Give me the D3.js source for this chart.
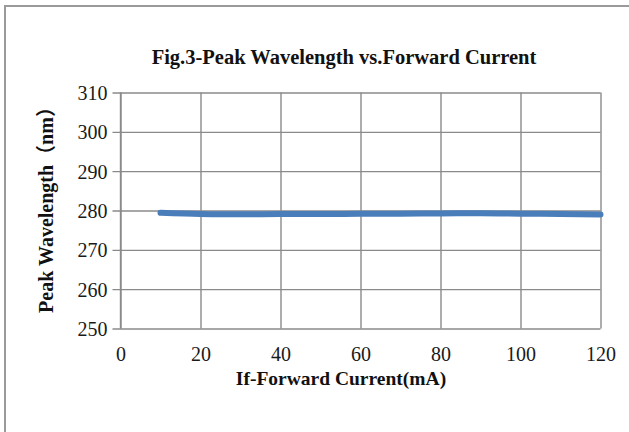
<!DOCTYPE html>
<html><head><meta charset="utf-8">
<script src="https://cdn.jsdelivr.net/npm/d3@7"></script>
<style>html,body{margin:0;padding:0;background:#fff;}svg{display:block;}</style>
</head><body>
<svg id="c" width="629" height="432"></svg>
<script>
const currents = [10, 20, 30, 40, 50, 60, 70, 80, 90, 100, 110, 120];
const wavelengths = [279.4, 279.1, 279.05, 279.1, 279.1, 279.15, 279.2, 279.25, 279.3, 279.2, 279.1, 279.0];
const xTicks = [0, 20, 40, 60, 80, 100, 120];
const yTicks = [250, 260, 270, 280, 290, 300, 310];
const title = "Fig.3-Peak Wavelength vs.Forward Current";
const xTitle = "If-Forward Current(mA)";
const yTitle = "Peak Wavelength（nm）";

const svg = d3.select("#c");
const font = "'Liberation Serif','Times New Roman',serif";
const L = 120.5, R = 600.5, T = 92.5, B = 328.5;

svg.append("rect").attr("x", 5).attr("y", 6).attr("width", 700).attr("height", 500)
  .attr("fill", "none").attr("stroke", "#9a9a9a").attr("stroke-width", 2);

const x = d3.scaleLinear().domain([0, 120]).range([L, R]);
const y = d3.scaleLinear().domain([250, 310]).range([B, T]);

// horizontal gridlines + y ticks
const yAxis = d3.axisLeft(y).tickValues(yTicks).tickSize(R - L + 8).tickSizeOuter(0).tickFormat(d3.format("d"));
const gy = svg.append("g").attr("transform", `translate(${R},0)`).call(yAxis);
gy.select(".domain").remove();
gy.selectAll("line").attr("stroke", "#8a8a8a").attr("stroke-width", 1.4);
gy.selectAll("text").attr("x", -(R - L) - 13).attr("dy", "0.35em")
  .attr("font-family", font).attr("font-size", 20).attr("fill", "#1a1a1a");

// vertical gridlines + x labels
const xAxis = d3.axisBottom(x).tickValues(xTicks).tickSize(-(B - T)).tickSizeOuter(0).tickFormat(d3.format("d"));
const gx = svg.append("g").attr("transform", `translate(0,${B})`).call(xAxis);
gx.select(".domain").remove();
gx.selectAll("line").attr("stroke", "#8a8a8a").attr("stroke-width", 1.4);
gx.selectAll("text").attr("y", 32).attr("dy", 0)
  .attr("font-family", font).attr("font-size", 20).attr("fill", "#1a1a1a");

// y axis line
svg.append("line").attr("x1", L).attr("x2", L).attr("y1", T).attr("y2", B)
  .attr("stroke", "#8a8a8a").attr("stroke-width", 1.4);

// data line
const line = d3.line().x(d => x(d[0])).y(d => y(d[1])).curve(d3.curveMonotoneX);
svg.append("path").datum(currents.map((c, i) => [c, wavelengths[i]]))
  .attr("d", line).attr("fill", "none").attr("stroke", "#4a7ebb")
  .attr("stroke-width", 6).attr("stroke-linecap", "round");

// titles
svg.append("text").attr("x", 344).attr("y", 64).attr("text-anchor", "middle")
  .attr("font-family", font).attr("font-weight", "bold").attr("font-size", 20.5).attr("fill", "#111")
  .text(title);
svg.append("text").attr("x", 341).attr("y", 385).attr("text-anchor", "middle")
  .attr("font-family", font).attr("font-weight", "bold").attr("font-size", 19.5).attr("fill", "#111")
  .text(xTitle);
svg.append("text").attr("transform", "translate(53,205) rotate(-90)").attr("text-anchor", "middle")
  .attr("font-family", font + ",'Noto Sans CJK SC'").attr("font-weight", "bold").attr("font-size", 20).attr("fill", "#111")
  .text(yTitle);
</script>
</body></html>
